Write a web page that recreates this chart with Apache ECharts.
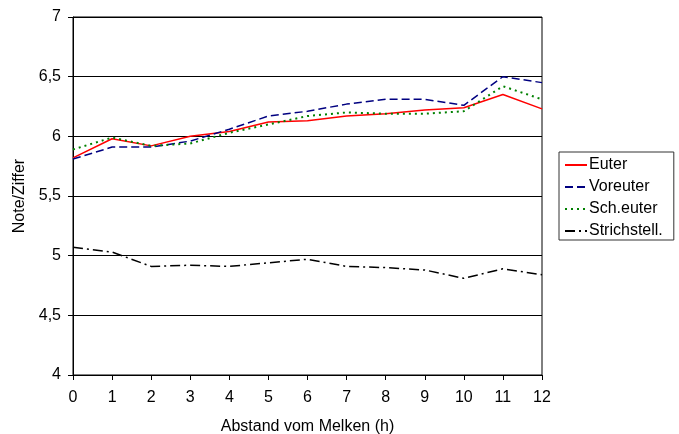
<!DOCTYPE html>
<html>
<head>
<meta charset="utf-8">
<script src="https://cdn.jsdelivr.net/npm/echarts@6/dist/echarts.min.js"></script>
<style>
html,body{margin:0;padding:0;background:#fff;}
#chart{width:679px;height:434px;}
</style>
</head>
<body>
<div id="chart"></div>
<script>
var hours = ['0','1','2','3','4','5','6','7','8','9','10','11','12'];
var euter = [5.82, 5.98, 5.92, 6.00, 6.04, 6.12, 6.13, 6.17, 6.19, 6.22, 6.24, 6.35, 6.23];
var voreuter = [5.81, 5.91, 5.91, 5.96, 6.06, 6.17, 6.21, 6.27, 6.31, 6.31, 6.26, 6.50, 6.45];
var schEuter = [5.89, 5.99, 5.92, 5.94, 6.03, 6.10, 6.17, 6.20, 6.19, 6.19, 6.21, 6.42, 6.31];
var strichstell = [5.07, 5.03, 4.91, 4.92, 4.91, 4.94, 4.97, 4.91, 4.90, 4.88, 4.81, 4.89, 4.84];
var seriesNames = ['Euter', 'Voreuter', 'Sch.euter', 'Strichstell.'];

var font = 'Liberation Sans, Arial, sans-serif';
var chart = echarts.init(document.getElementById('chart'), null, {renderer: 'canvas'});
function mk(name, data, color, type, width) {
  return {
    name: name, type: 'line', data: data, symbol: 'none', smooth: false,
    lineStyle: {color: color, type: type, width: width},
    itemStyle: {color: color},
    animation: false
  };
}
chart.setOption({
  animation: false,
  backgroundColor: '#fff',
  grid: {left: 73, top: 17, right: 137, bottom: 59, show: true, borderColor: '#000', borderWidth: 1,
    backgroundColor: 'transparent', containLabel: false, outerBoundsMode: 'none'},
  legend: {
    orient: 'vertical', left: 559, top: 152,
    padding: [5, 11, 1, 5], itemGap: 6, itemWidth: 22, itemHeight: 14,
    borderColor: '#333', borderWidth: 1,
    itemStyle: {opacity: 0},
    textStyle: {fontFamily: font, fontSize: 16, lineHeight: 16, color: '#000', padding: [0, 0, 0, -3]},
    data: seriesNames
  },
  xAxis: {
    type: 'category', data: hours, boundaryGap: false,
    name: 'Abstand vom Melken (h)', nameLocation: 'middle', nameGap: 44,
    nameTextStyle: {fontFamily: font, fontSize: 16, color: '#000'},
    axisLine: {lineStyle: {color: '#000', width: 1}},
    axisTick: {show: true, inside: false, length: 5, lineStyle: {color: '#000'}},
    axisLabel: {fontFamily: font, fontSize: 16, color: '#000', margin: 15},
    splitLine: {show: false}
  },
  yAxis: {
    type: 'value', min: 4, max: 7, interval: 0.5,
    name: 'Note/Ziffer', nameLocation: 'middle', nameGap: 44, nameRotate: 90,
    nameTextStyle: {fontFamily: font, fontSize: 16, color: '#000'},
    axisLine: {show: true, lineStyle: {color: '#000', width: 1}},
    axisTick: {show: true, inside: false, length: 5, lineStyle: {color: '#000'}},
    axisLabel: {fontFamily: font, fontSize: 16, color: '#000', margin: 12,
      formatter: function (v) { return String(v).replace('.', ','); }},
    splitLine: {show: true, lineStyle: {color: '#000', width: 1}}
  },
  series: [
    mk(seriesNames[0], euter, '#ff0000', 'solid', 1.5),
    mk(seriesNames[1], voreuter, '#000080', [8, 4], 1.5),
    mk(seriesNames[2], schEuter, '#008000', [2, 4], 2),
    mk(seriesNames[3], strichstell, '#000000', [10, 4, 2, 4], 1.5)
  ]
});
</script>
</body>
</html>
